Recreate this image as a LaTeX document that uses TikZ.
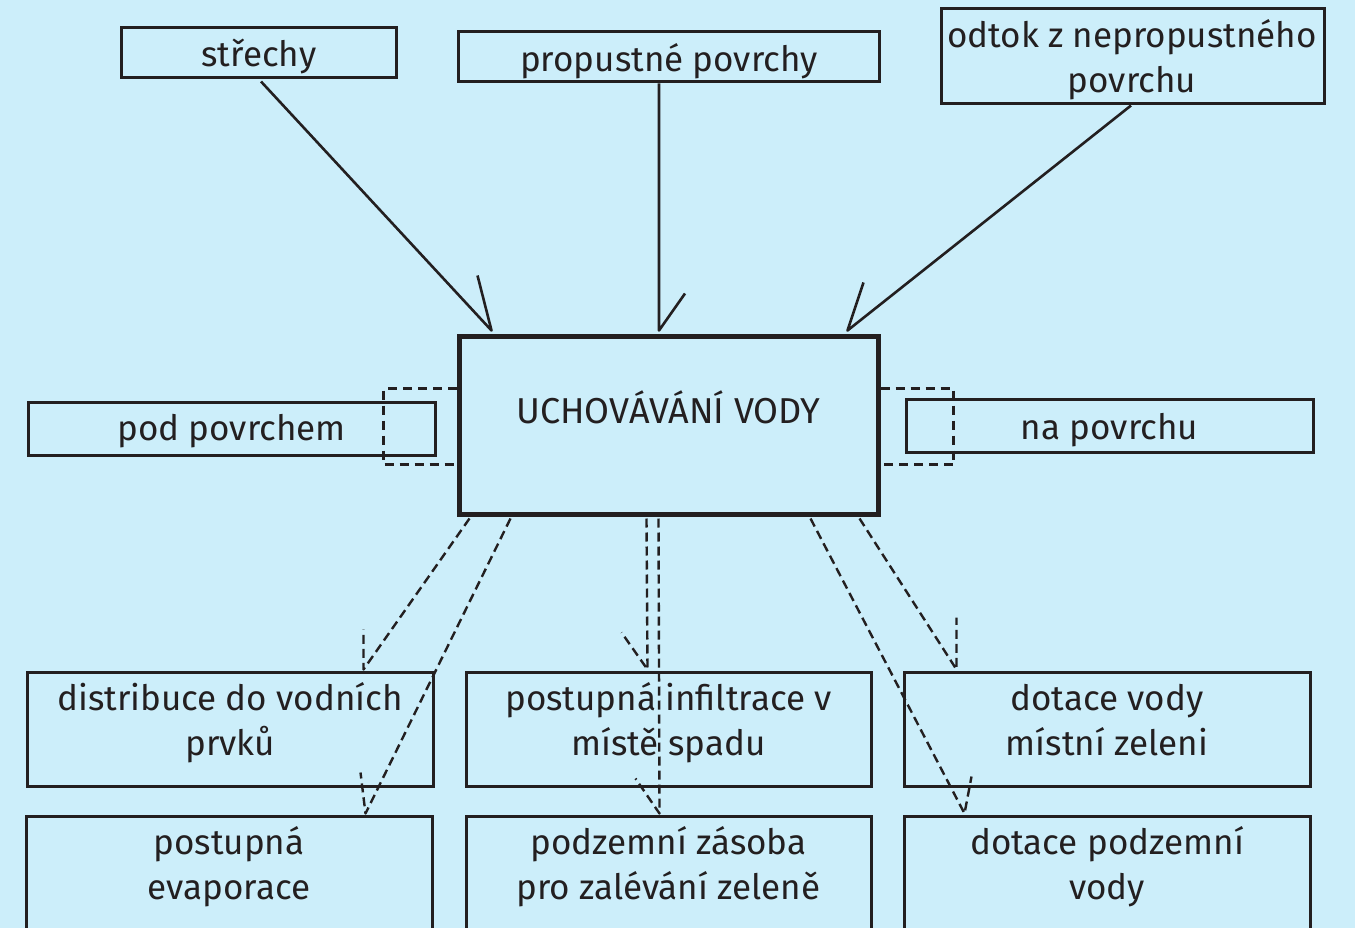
\documentclass[tikz,border=0pt]{standalone}
\usepackage{fontspec}
\setmainfont{Fira Sans}
\usetikzlibrary{calc}
\definecolor{bgblue}{RGB}{204,238,250}
\definecolor{ink}{RGB}{35,31,32}
\begin{document}
\begin{tikzpicture}[x=1pt,y=-1pt,
  box/.style={draw=ink, line width=3pt, rectangle, inner sep=0pt},
  mainbox/.style={draw=ink, line width=5pt, rectangle, inner sep=0pt},
  lbl/.style={text=ink, font=\fontsize{35}{45}\selectfont, inner sep=0pt, anchor=base, align=center},
  feed/.style={draw=ink, line width=2.6pt, line join=round},
  flow/.style={draw=ink, line width=2.4pt, line join=round, dash pattern=on 9pt off 5pt},
  bracket/.style={draw=ink, line width=2.6pt, dash pattern=on 9pt off 6pt}
]
\fill[bgblue] (0,0) rectangle (1355,928);
\useasboundingbox (0,0) rectangle (1355,928);

% sources
\node[box, minimum width=275pt, minimum height=50pt] (roofs) at (258.5,53) {};
\node[box, minimum width=421pt, minimum height=50pt] (perm) at (668.5,57) {};
\node[box, minimum width=383pt, minimum height=95pt] (runoff) at (1132.5,56.5) {};
\node[lbl] (roofs-t) at (259,67) {střechy};
\node[lbl] (perm-t) at (669,72) {propustné povrchy};
\node[lbl] (runoff-t) at (1132,93) {odtok z nepropustného\\povrchu};

% storage
\node[mainbox, minimum width=419pt, minimum height=178pt] (store) at (668.5,425) {};
\node[lbl, font=\fontsize{36}{45}\selectfont] (store-t) at (668.5,423) {UCHOVÁVÁNÍ VODY};

% storage variants
\node[box, minimum width=407pt, minimum height=53pt] (under) at (231.5,428.5) {};
\node[box, minimum width=407pt, minimum height=53pt] (surf) at (1109.5,425.5) {};
\node[lbl] (under-t) at (231.5,440) {pod povrchem};
\node[lbl] (surf-t) at (1109.5,439) {na povrchu};

% uses, first row
\node[box, minimum width=406pt, minimum height=114pt] (distr) at (230,729) {};
\node[box, minimum width=405pt, minimum height=114pt] (infil) at (668.5,729) {};
\node[box, minimum width=406pt, minimum height=114pt] (green) at (1107,729) {};
\node[lbl] (distr-t) at (230,755) {distribuce do vodních\\prvků};
\node[lbl] (infil-t) at (668.5,755) {postupná infiltrace v\\místě spadu};
\node[lbl] (green-t) at (1107,755) {dotace vody\\místní zeleni};

% uses, second row
\node[box, minimum width=406pt, minimum height=120pt] (evap) at (229,876) {};
\node[box, minimum width=405pt, minimum height=120pt] (tank) at (668.5,876) {};
\node[box, minimum width=406pt, minimum height=120pt] (ground) at (1107,876) {};
\node[lbl] (evap-t) at (229,899) {postupná\\evaporace};
\node[lbl] (tank-t) at (668.5,899) {podzemní zásoba\\pro zalévání zeleně};
\node[lbl] (ground-t) at (1107,899) {dotace podzemní\\vody};

% dashed brackets joining the variants to the storage box
\draw[bracket] ($(store.north west)+(0,55)$) -- ++(-73,0) -- ++(0,76) -- ++(73,0);
\draw[bracket] ($(store.north east)+(0,55)$) -- ++(73,0) -- ++(0,76) -- ++(-73,0);

% inflows with one-sided barbs
\draw[feed] ($(roofs.south)+(2.5,2)$) -- ($(store.north west)+(35,-3)$) -- ++(-14,-55);
\draw[feed] ($(perm.south)+(-9.5,0)$) -- ($(store.north)+(-9.5,-3)$) -- ++(26,-37);
\draw[feed] ($(runoff.south)+(-1.5,0)$) -- ($(store.north east)+(-33,-3)$) -- ++(16,-48);

% outflows, dashed
\draw[flow] ($(store.south west)+(13,2)$) -- ($(distr.north west)+(338,-1)$) -- ++(0,-40);
\draw[flow] ($(store.south west)+(54,2)$) -- ($(evap.north west)+(341,-1)$) -- ++(-5,-41);
\draw[flow] ($(store.south west)+(190,2)$) -- ($(infil.north west)+(183,-1)$) -- ++(-26,-37);
\draw[flow] ($(store.south west)+(202,2)$) -- ($(tank.north west)+(195,-1)$) -- ++(-24,-35);
\draw[flow] ($(store.south west)+(354,2)$) -- ($(ground.north west)+(62,-1)$) -- ++(7,-37);
\draw[flow] ($(store.south west)+(403,2)$) -- ($(green.north west)+(54,-1)$) -- ++(0,-52);
\end{tikzpicture}
\end{document}
